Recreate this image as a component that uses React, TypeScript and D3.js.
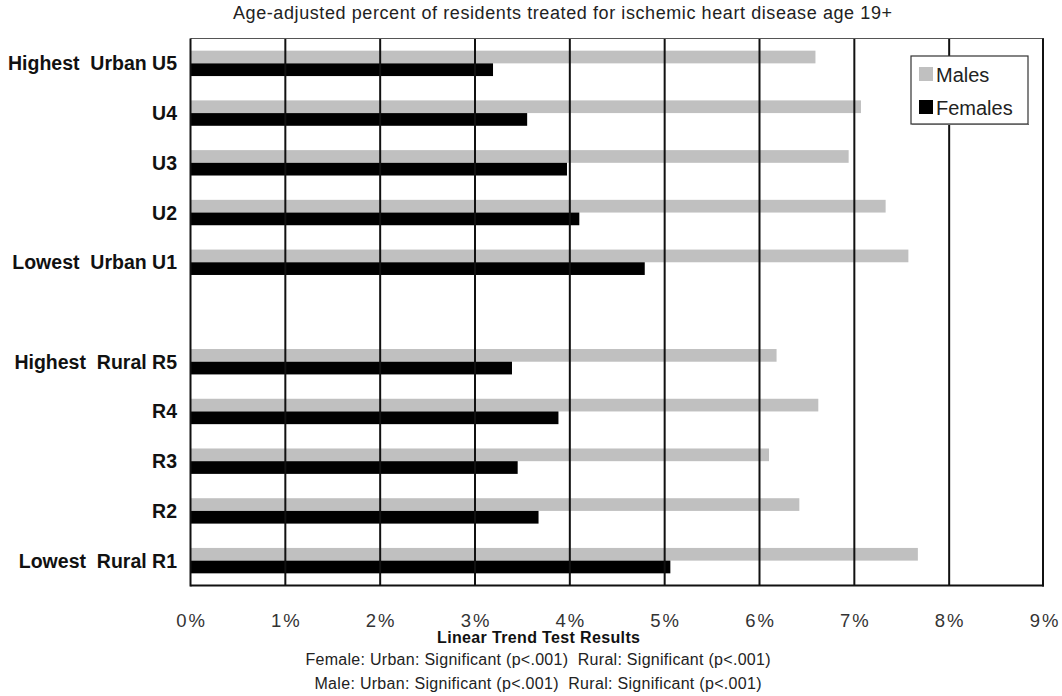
import React from "react";
import * as d3 from "d3";

const categories = [
  "Highest  Urban U5",
  "U4",
  "U3",
  "U2",
  "Lowest  Urban U1",
  "",
  "Highest  Rural R5",
  "R4",
  "R3",
  "R2",
  "Lowest  Rural R1",
];
const slotKeys = ["U5", "U4", "U3", "U2", "U1", "gap", "R5", "R4", "R3", "R2", "R1"];
const males = [6.59, 7.07, 6.94, 7.33, 7.57, null, 6.18, 6.62, 6.1, 6.42, 7.67];
const females = [3.19, 3.55, 3.97, 4.1, 4.79, null, 3.39, 3.88, 3.45, 3.67, 5.06];
const xTicks = [0, 1, 2, 3, 4, 5, 6, 7, 8, 9];
const title = "Age-adjusted percent of residents treated for ischemic heart disease age 19+";
const footTitle = "Linear Trend Test Results";
const footLines = [
  "Female: Urban: Significant (p<.001)  Rural: Significant (p<.001)",
  "Male: Urban: Significant (p<.001)  Rural: Significant (p<.001)",
];
const legendItems = [
  { label: "Males", color: "#c0c0c0" },
  { label: "Females", color: "#000000" },
];

const W = 1062;
const H = 696;
const left = 190.5;
const right = 1044;
const top = 38.5;
const bottom = 585.5;
const FONT = "'Liberation Sans', Arial, Helvetica, sans-serif";

export default function App() {
  const x = d3.scaleLinear().domain([0, 9]).range([left, right]);
  const y = d3.scaleBand<string>().domain(slotKeys).range([top, bottom]).padding(0);
  const barH = 12.7;

  return (
    <svg
      width={W}
      height={H}
      style={{ position: "absolute", left: 0, top: 0, background: "#fff" }}
      fontFamily={FONT}
    >
      <rect x={0} y={0} width={W} height={H} fill="#fff" />
      <text x={562.5} y={19} textAnchor="middle" fontSize={18} fill="#222" textLength={659} lengthAdjust="spacing">
        {title}
      </text>

      {/* bars */}
      {slotKeys.map((k, i) => {
        if (males[i] == null) return null;
        const c = (y(k) as number) + y.bandwidth() / 2;
        return (
          <g key={k}>
            <rect x={x(0)} y={c - barH} width={x(males[i] as number) - x(0)} height={barH} fill="#c0c0c0" />
            <rect x={x(0)} y={c} width={x(females[i] as number) - x(0)} height={barH} fill="#000" />
          </g>
        );
      })}

      {/* gridlines */}
      {xTicks.slice(1, -1).map((t) => (
        <line key={t} x1={x(t)} x2={x(t)} y1={top} y2={bottom} stroke="#111" strokeWidth={2} />
      ))}

      {/* frame */}
      <line x1={left} x2={right} y1={top} y2={top} stroke="#555" strokeWidth={1.2} />
      <line x1={left} x2={left} y1={top} y2={bottom + 1} stroke="#111" strokeWidth={2} />
      <line x1={right - 1} x2={right - 1} y1={top} y2={bottom + 1} stroke="#111" strokeWidth={2} />
      <line x1={left} x2={right} y1={bottom} y2={bottom} stroke="#111" strokeWidth={2} />

      {/* category labels */}
      {slotKeys.map((k, i) =>
        categories[i] ? (
          <text
            key={k}
            x={177}
            y={(y(k) as number) + y.bandwidth() / 2 + 7}
            textAnchor="end"
            fontSize={19.5}
            fontWeight="bold"
            fill="#111"
            style={{ whiteSpace: "pre" }}
          >
            {categories[i]}
          </text>
        ) : null
      )}

      {/* x tick labels */}
      {xTicks.map((t) => (
        <text key={t} x={x(t) + 1} y={627} textAnchor="middle" fontSize={18.5} letterSpacing={2} fill="#333">
          {`${t}%`}
        </text>
      ))}

      {/* legend */}
      <rect x={911} y={56} width={117} height={68} fill="#fff" stroke="#333" strokeWidth={1.2} />
      <line x1={912} x2={1029} y1={124.5} y2={124.5} stroke="#666" strokeWidth={1} />
      {legendItems.map((d, i) => (
        <g key={d.label}>
          <rect x={919} y={67 + i * 33} width={14} height={14} fill={d.color} />
          <text x={936} y={81.5 + i * 33} fontSize={20} fill="#222">
            {d.label}
          </text>
        </g>
      ))}

      {/* footer */}
      <text x={538.5} y={643} textAnchor="middle" fontSize={16} fontWeight="bold" fill="#111" textLength={203} lengthAdjust="spacing">
        {footTitle}
      </text>
      {footLines.map((l, i) => (
        <text
          key={i}
          x={538}
          y={665 + i * 24}
          textAnchor="middle"
          fontSize={16}
          fill="#222"
          textLength={i === 0 ? 465 : 447}
          lengthAdjust="spacing"
          style={{ whiteSpace: "pre" }}
        >
          {l}
        </text>
      ))}
    </svg>
  );
}
